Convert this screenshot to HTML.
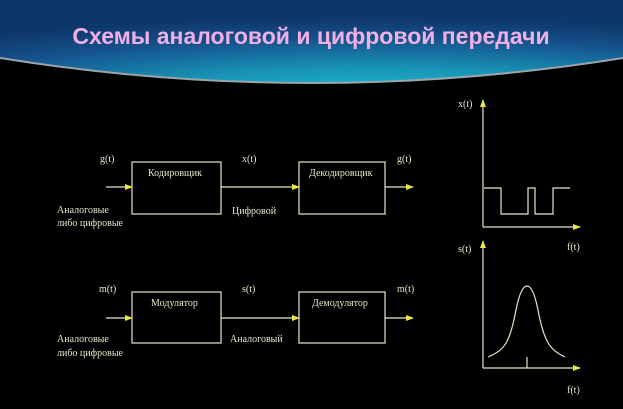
<!DOCTYPE html>
<html><head><meta charset="utf-8"><style>
html,body{margin:0;padding:0;background:#000;}
svg{display:block;}
text{font-family:"Liberation Serif",serif;fill:#e6e6c8;font-size:10px;}
</style></head><body>
<svg width="623" height="409" viewBox="0 0 623 409" xmlns="http://www.w3.org/2000/svg">
<defs>
<radialGradient id="bg" cx="0.6" cy="1.2" r="1.0">
<stop offset="0" stop-color="#1cc8d8"/>
<stop offset="0.4" stop-color="#1890b4"/>
<stop offset="0.75" stop-color="#15508a"/>
<stop offset="1" stop-color="#0e3668"/>
</radialGradient>
<marker id="ar" markerWidth="8" markerHeight="8" refX="7" refY="4" orient="auto" markerUnits="userSpaceOnUse">
<path d="M0,1 L8,4 L0,7 Z" fill="#e8e840"/>
</marker>
</defs>
<rect width="623" height="409" fill="#000"/>
<path d="M0,0 H623 V58 Q311,108 0,58 Z" fill="url(#bg)"/>
<path d="M0,58 Q311,108 623,58" fill="none" stroke="#9aa4aa" stroke-width="2"/>
<text x="311" y="44" text-anchor="middle" style="font-family:'Liberation Sans',sans-serif;font-weight:bold;font-size:23px;fill:#f0b0e6">Схемы аналоговой и цифровой передачи</text>

<g stroke="#e6e6c8" stroke-width="1.2" fill="none">
<rect x="132" y="162" width="89" height="52"/>
<rect x="299" y="162" width="86" height="52"/>
<line x1="106" y1="187" x2="132" y2="187" marker-end="url(#ar)"/>
<line x1="221" y1="187" x2="299" y2="187" marker-end="url(#ar)"/>
<line x1="385" y1="187" x2="413" y2="187" marker-end="url(#ar)"/>
<rect x="132" y="292" width="89" height="51"/>
<rect x="299" y="292" width="86" height="51"/>
<line x1="106" y1="318" x2="132" y2="318" marker-end="url(#ar)"/>
<line x1="221" y1="318" x2="299" y2="318" marker-end="url(#ar)"/>
<line x1="385" y1="318" x2="413" y2="318" marker-end="url(#ar)"/>

<line x1="483" y1="227" x2="483" y2="100" marker-end="url(#ar)"/>
<line x1="483" y1="227" x2="580" y2="227" marker-end="url(#ar)"/>
<polyline points="484,188 501,188 501,214 528,214 528,188 535,188 535,214 553,214 553,188 570,188"/>
<line x1="483" y1="368" x2="483" y2="241" marker-end="url(#ar)"/>
<line x1="483" y1="368" x2="580" y2="368" marker-end="url(#ar)"/>
<path d="M488,357 C505,350 510,342 516,310 C520,290 524,286 527,286 C530,286 534,290 538,310 C544,342 550,350 565,357"/>
<line x1="527" y1="357" x2="527" y2="368"/>
</g>

<text x="100" y="162">g(t)</text>
<text x="242" y="162">x(t)</text>
<text x="397" y="162">g(t)</text>
<text x="148" y="176">Кодировщик</text>
<text x="309" y="176">Декодировщик</text>
<text x="57" y="213">Аналоговые</text>
<text x="57" y="226">либо цифровые</text>
<text x="232" y="214">Цифровой</text>

<text x="99" y="292">m(t)</text>
<text x="242" y="292">s(t)</text>
<text x="397" y="292">m(t)</text>
<text x="151" y="306">Модулятор</text>
<text x="312" y="306">Демодулятор</text>
<text x="57" y="342">Аналоговые</text>
<text x="57" y="356">либо цифровые</text>
<text x="230" y="342">Аналоговый</text>

<text x="458" y="107">x(t)</text>
<text x="567" y="250">f(t)</text>
<text x="458" y="252">s(t)</text>
<text x="567" y="393">f(t)</text>
</svg>
</body></html>
